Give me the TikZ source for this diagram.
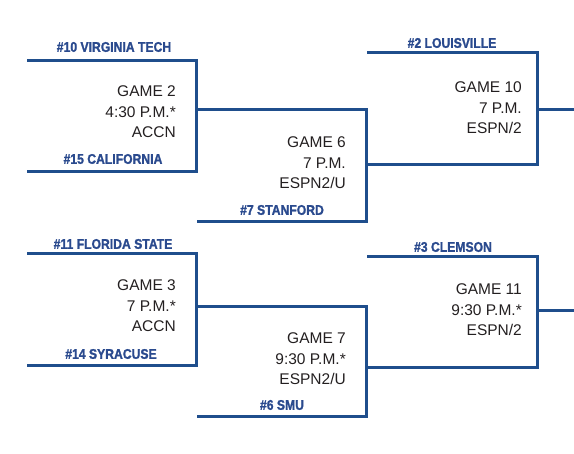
\documentclass[tikz,border=0pt]{standalone}
\usepackage{fontspec}
\setmainfont{Liberation Sans}
\newfontfamily\teamfont[FakeStretch=0.87,FakeBold=1.3]{Liberation Sans Bold}
\definecolor{brBlue}{HTML}{1F4E8C}
\definecolor{brTeam}{HTML}{2A4A8E}
\definecolor{brText}{HTML}{231F20}

\begin{document}
\begin{tikzpicture}[
  x=1pt, y=-1pt,
  line/.style ={draw=brBlue, line width=3pt},
  team/.style ={inner sep=0pt, text=brTeam, font=\teamfont\fontsize{14}{14}\selectfont},
  game/.style ={inner sep=0pt, anchor=east, align=right, text=brText, font=\fontsize{15.5}{20.5}\selectfont}]
  \useasboundingbox (0,0) rectangle (574,454);
  % top half
  \coordinate (g2a) at (27,61);   \coordinate (g2b) at (196,61);
  \coordinate (g2c) at (196,172); \coordinate (g2d) at (27,172);
  \coordinate (g2o) at (196,110);
  \coordinate (g6a) at (366,110); \coordinate (g6b) at (366,222);
  \coordinate (g6c) at (197,222); \coordinate (g6o) at (366,165);
  \coordinate (g10a) at (367,53); \coordinate (g10b) at (537,53);
  \coordinate (g10c) at (537,165); \coordinate (g10o) at (537,110);
  \coordinate (g10e) at (574,110);
  % bottom half
  \coordinate (g3a) at (27,254);  \coordinate (g3b) at (196,254);
  \coordinate (g3c) at (196,366); \coordinate (g3d) at (27,366);
  \coordinate (g3o) at (196,307);
  \coordinate (g7a) at (366,307); \coordinate (g7b) at (366,417);
  \coordinate (g7c) at (197,417); \coordinate (g7o) at (366,368);
  \coordinate (g11a) at (367,257); \coordinate (g11b) at (537,257);
  \coordinate (g11c) at (537,368); \coordinate (g11o) at (537,311);
  \coordinate (g11e) at (574,311);

  \draw[line] (g2a) -- (g2b) -- (g2c) -- (g2d);
  \draw[line] (g2o) -- (g6a) -- (g6b) -- (g6c);
  \draw[line] (g6o) -- (g10c) -- (g10b) -- (g10a);
  \draw[line] (g10o) -- (g10e);
  \draw[line] (g3a) -- (g3b) -- (g3c) -- (g3d);
  \draw[line] (g3o) -- (g7a) -- (g7b) -- (g7c);
  \draw[line] (g7o) -- (g11c) -- (g11b) -- (g11a);
  \draw[line] (g11o) -- (g11e);

  \node[team] (t10) at (114,47)  {\#10 VIRGINIA TECH};
  \node[team] (t15) at (113,159) {\#15 CALIFORNIA};
  \node[game] (g2)  at (176,112) {GAME 2\\4:30 P.M.*\\ACCN};
  \node[team] (t7)  at (282,210) {\#7 STANFORD};
  \node[game] (g6)  at (346,163) {GAME 6\\7 P.M.\\ESPN2/U};
  \node[team] (t2)  at (452,43)  {\#2 LOUISVILLE};
  \node[game] (g10) at (522,108) {GAME 10\\7 P.M.\\ESPN/2};

  \node[team] (t11) at (113,244) {\#11 FLORIDA STATE};
  \node[team] (t14) at (111,354) {\#14 SYRACUSE};
  \node[game] (g3)  at (176,306) {GAME 3\\7 P.M.*\\ACCN};
  \node[team] (t6)  at (282,405) {\#6 SMU};
  \node[game] (g7)  at (346,359) {GAME 7\\9:30 P.M.*\\ESPN2/U};
  \node[team] (t3)  at (453,247) {\#3 CLEMSON};
  \node[game] (g11) at (522,310) {GAME 11\\9:30 P.M.*\\ESPN/2};
\end{tikzpicture}
\end{document}
